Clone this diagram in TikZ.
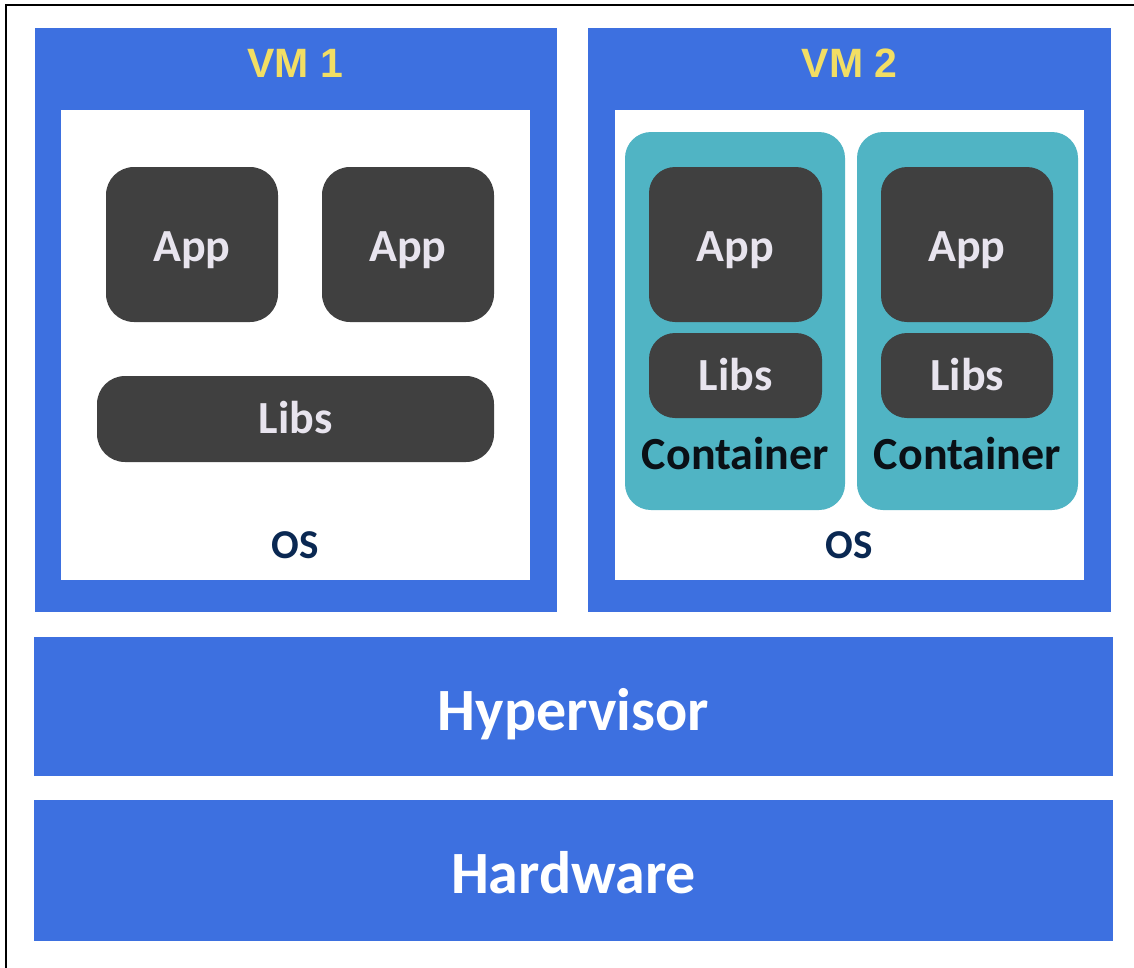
\documentclass[tikz,border=0pt]{standalone}
\usepackage{fontspec}
\setmainfont{Carlito}
\newfontfamily\vmfont{Liberation Sans}
\definecolor{vmblue}{RGB}{61,112,224}
\definecolor{contteal}{RGB}{80,180,196}
\definecolor{appdark}{RGB}{64,64,64}
\definecolor{applabel}{RGB}{232,228,238}
\definecolor{vmyellow}{RGB}{242,222,100}
\definecolor{osnavy}{RGB}{10,40,82}
\definecolor{contink}{RGB}{10,16,22}
\tikzset{
  bluebox/.style={fill=vmblue,draw=none,inner sep=0pt,rectangle},
  whitebox/.style={fill=white,draw=none,inner sep=0pt,rectangle},
  darkbox/.style={fill=appdark,draw=none,inner sep=0pt,rectangle,rounded corners=28pt},
  contbox/.style={fill=contteal,draw=none,inner sep=0pt,rectangle,rounded corners=26pt},
  applbl/.style={anchor=base,inner sep=0pt,text=applabel,font=\bfseries\fontsize{46}{50}\selectfont},
  vmlbl/.style={anchor=base,inner sep=0pt,text=vmyellow,font=\vmfont\bfseries\fontsize{41}{46}\selectfont},
  oslbl/.style={anchor=base,inner sep=0pt,text=osnavy,font=\bfseries\fontsize{41}{44}\selectfont},
  contlbl/.style={anchor=base,inner sep=0pt,text=contink,font=\bfseries\fontsize{46}{50}\selectfont},
  baselbl/.style={anchor=base,inner sep=0pt,text=white,font=\bfseries\fontsize{60}{64}\selectfont}
}
\begin{document}
\begin{tikzpicture}[x=1pt,y=-1pt]
\useasboundingbox (0,0) rectangle (1134,967);
\fill[white] (0,0) rectangle (1134,967);
\draw[line width=2pt,black] (6,968) -- (6,5) -- (1135,5);
% VM 1
\node[bluebox,minimum width=522pt,minimum height=584pt] (vm1) at (296,320) {};
\node[whitebox,minimum width=469pt,minimum height=470pt] (os1) at (295.5,345) {};
\node[vmlbl] (vm1t) at (295,77) {VM 1};
\node[darkbox,minimum width=172pt,minimum height=155pt] (app1) at (192,244.5) {};
\node[darkbox,minimum width=172pt,minimum height=155pt] (app2) at (408,244.5) {};
\node[darkbox,minimum width=397pt,minimum height=86pt] (libs1) at (295.5,419) {};
\node[applbl] (app1t) at (192,261) {App};
\node[applbl] (app2t) at (408,261) {App};
\node[applbl] (libs1t) at (295.5,433) {Libs};
\node[oslbl] (os1t) at (295.5,558) {OS};
% VM 2
\node[bluebox,minimum width=523pt,minimum height=584pt] (vm2) at (849.5,320) {};
\node[whitebox,minimum width=469pt,minimum height=470pt] (os2) at (849.5,345) {};
\node[vmlbl] (vm2t) at (849.5,77) {VM 2};
\node[contbox,minimum width=220pt,minimum height=378pt] (c1) at (735,321) {};
\node[contbox,minimum width=221pt,minimum height=378pt] (c2) at (967.5,321) {};
\node[darkbox,rounded corners=26pt,minimum width=173pt,minimum height=155pt] (capp1) at (735.5,244.5) {};
\node[darkbox,rounded corners=26pt,minimum width=173pt,minimum height=85pt] (clibs1) at (735.5,375.5) {};
\node[darkbox,rounded corners=26pt,minimum width=172pt,minimum height=155pt] (capp2) at (967,244.5) {};
\node[darkbox,rounded corners=26pt,minimum width=172pt,minimum height=85pt] (clibs2) at (967,375.5) {};
\node[applbl] (capp1t) at (735.5,261) {App};
\node[applbl] (clibs1t) at (735.5,390) {Libs};
\node[applbl] (capp2t) at (967,261) {App};
\node[applbl] (clibs2t) at (967,390) {Libs};
\node[contlbl] (c1t) at (735.5,469) {Container};
\node[contlbl] (c2t) at (967.5,469) {Container};
\node[oslbl] (os2t) at (849.5,558) {OS};
% Hypervisor and hardware
\node[bluebox,minimum width=1079pt,minimum height=139pt] (hyp) at (573.5,706.5) {};
\node[baselbl] (hypt) at (573.5,730) {Hypervisor};
\node[bluebox,minimum width=1079pt,minimum height=141pt] (hw) at (573.5,870.5) {};
\node[baselbl] (hwt) at (573.5,893) {Hardware};
\end{tikzpicture}
\end{document}
